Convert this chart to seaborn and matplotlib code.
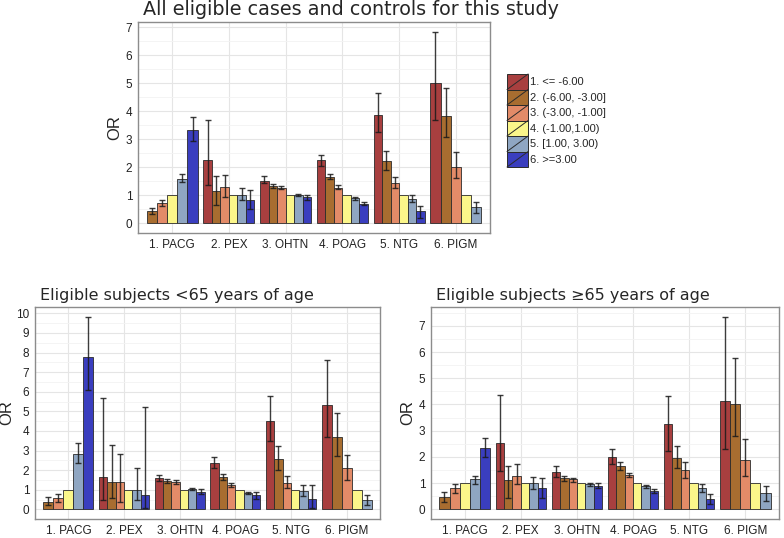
import numpy as np
import pandas as pd
import matplotlib
matplotlib.use('Agg')
import matplotlib.pyplot as plt
import seaborn as sns
from matplotlib.patches import Rectangle, Patch
from matplotlib.lines import Line2D
from matplotlib.legend_handler import HandlerBase
from matplotlib.ticker import MultipleLocator

nan = np.nan

grupos = ['1. PACG', '2. PEX', '3. OHTN', '4. POAG', '5. NTG', '6. PIGM']
categorias = ['1. <= -6.00', '2. (-6.00, -3.00]', '3. (-3.00, -1.00]',
              '4. (-1.00,1.00)', '5. [1.00, 3.00)', '6. >=3.00']
cores = ['#A83F3F', '#A86D30', '#E38B68', '#FBF68A', '#8FA6C2', '#3A3EBF']

# painel 1: todos os casos
or_todos = [[nan, 0.43, 0.72, 1.0, 1.60, 3.33],
            [2.27, 1.15, 1.30, 1.0, 1.03, 0.82],
            [1.53, 1.35, 1.28, 1.0, 1.02, 0.93],
            [2.25, 1.67, 1.28, 1.0, 0.89, 0.71],
            [3.88, 2.23, 1.43, 1.0, 0.88, 0.43],
            [5.02, 3.85, 2.02, 1.0, 0.58, nan]]
lo_todos = [[nan, 0.32, 0.62, nan, 1.47, 2.93],
            [1.38, 0.65, 0.93, nan, 0.82, 0.50],
            [1.43, 1.28, 1.22, nan, 0.97, 0.85],
            [2.05, 1.57, 1.22, nan, 0.85, 0.64],
            [3.25, 1.90, 1.25, nan, 0.78, 0.20],
            [3.70, 3.07, 1.61, nan, 0.37, nan]]
hi_todos = [[nan, 0.55, 0.82, nan, 1.75, 3.80],
            [3.70, 1.68, 1.72, nan, 1.28, 1.20],
            [1.68, 1.42, 1.35, nan, 1.06, 1.00],
            [2.45, 1.78, 1.36, nan, 0.94, 0.78],
            [4.65, 2.60, 1.66, nan, 1.02, 0.63],
            [6.85, 4.84, 2.55, nan, 0.78, nan]]

# painel 2: < 65 anos
or_menor = [[nan, 0.37, 0.57, 1.0, 2.82, 7.75],
            [1.64, 1.39, 1.39, 1.0, 1.01, 0.71],
            [1.60, 1.44, 1.39, 1.0, 1.05, 0.91],
            [2.36, 1.64, 1.25, 1.0, 0.84, 0.74],
            [4.49, 2.57, 1.35, 1.0, 0.95, 0.54],
            [5.30, 3.67, 2.09, 1.0, 0.46, nan]]
lo_menor = [[nan, 0.20, 0.37, nan, 2.36, 6.11],
            [0.50, 0.57, 0.37, nan, 0.47, 0.07],
            [1.45, 1.32, 1.27, nan, 0.98, 0.76],
            [2.09, 1.49, 1.15, nan, 0.78, 0.54],
            [3.50, 1.99, 1.08, nan, 0.68, 0.07],
            [3.68, 2.70, 1.52, nan, 0.20, nan]]
hi_menor = [[nan, 0.61, 0.78, nan, 3.36, 9.83],
            [5.66, 3.29, 2.84, nan, 2.13, 5.24],
            [1.77, 1.55, 1.49, nan, 1.11, 1.06],
            [2.65, 1.79, 1.35, nan, 0.91, 0.91],
            [5.76, 3.21, 1.69, nan, 1.22, 1.22],
            [7.64, 4.93, 2.79, nan, 0.74, nan]]

# painel 3: >= 65 anos
or_maior = [[nan, 0.47, 0.81, 1.0, 1.14, 2.34],
            [2.54, 1.12, 1.29, 1.0, 1.00, 0.81],
            [1.44, 1.19, 1.14, 1.0, 0.95, 0.91],
            [2.01, 1.67, 1.31, 1.0, 0.88, 0.69],
            [3.27, 1.95, 1.50, 1.0, 0.82, 0.40],
            [4.12, 4.03, 1.87, 1.0, 0.63, nan]]
lo_maior = [[nan, 0.28, 0.63, nan, 0.97, 1.98],
            [1.48, 0.44, 0.95, nan, 0.76, 0.45],
            [1.24, 1.09, 1.06, nan, 0.88, 0.81],
            [1.73, 1.52, 1.23, nan, 0.82, 0.62],
            [2.24, 1.57, 1.20, nan, 0.68, 0.21],
            [2.30, 2.81, 1.29, nan, 0.32, nan]]
hi_maior = [[nan, 0.66, 0.97, nan, 1.29, 2.72],
            [4.38, 1.67, 1.73, nan, 1.25, 1.19],
            [1.66, 1.29, 1.20, nan, 1.02, 1.00],
            [2.30, 1.82, 1.40, nan, 0.94, 0.78],
            [4.32, 2.40, 1.81, nan, 0.97, 0.59],
            [7.35, 5.76, 2.68, nan, 0.91, nan]]


def monta_df(or_v, lo_v, hi_v):
    linhas = []
    for i, g in enumerate(grupos):
        for j, c in enumerate(categorias):
            if not np.isnan(or_v[i][j]):
                linhas.append([g, c, or_v[i][j], lo_v[i][j], hi_v[i][j]])
    return pd.DataFrame(linhas, columns=['grupo', 'cat', 'OR', 'lo', 'hi'])


def desenha(ax, df, titulo, tam_titulo, pos_or):
    # dodge estilo ggplot: barras ocupam 0.9 do grupo
    for i, g in enumerate(grupos):
        sub = df[df['grupo'] == g]
        n = len(sub)
        w = 0.9 / n
        for k, (_, r) in enumerate(sub.iterrows()):
            x = i - 0.45 + (k + 0.5) * w
            cor = cores[categorias.index(r['cat'])]
            ax.bar(x, r['OR'], width=w, color=cor, edgecolor='#2b2b2b', linewidth=0.6, zorder=2)
            if not np.isnan(r['lo']):
                ax.errorbar(x, r['OR'], yerr=[[r['OR'] - r['lo']], [r['hi'] - r['OR']]],
                            fmt='none', ecolor='#1a1a1a', elinewidth=1.0, capsize=2.4,
                            capthick=1.0, zorder=3, alpha=0.85)
    topo = df['hi'].max()
    ax.set_ylim(-0.05 * topo, topo * 1.05)
    ax.set_xlim(-0.6, 5.6)
    ax.set_xticks(range(len(grupos)))
    ax.set_xticklabels(grupos)
    ax.yaxis.set_major_locator(MultipleLocator(1))
    ax.yaxis.set_minor_locator(MultipleLocator(0.5))
    ax.grid(True, which='major', color='#E5E5E5', linewidth=0.8, zorder=0)
    ax.grid(True, which='minor', axis='y', color='#F3F3F3', linewidth=0.6, zorder=0)
    ax.set_axisbelow(True)
    for s in ax.spines.values():
        s.set_color('#8C8C8C')
        s.set_linewidth(1.0)
    ax.tick_params(axis='both', which='major', direction='out', length=2.6, width=0.8,
                   color='#333333', labelsize=8.5, labelcolor='#222222', pad=1.5)
    ax.tick_params(axis='y', which='minor', length=0)
    for t in ax.get_xticklabels() + ax.get_yticklabels():
        t.set_fontfamily('Liberation Sans')
    ax.set_ylabel('OR', fontsize=12, fontfamily='Liberation Sans')
    ax.yaxis.set_label_coords(pos_or, 0.5)
    ax.set_xlabel('')
    ax.set_title(titulo, fontsize=tam_titulo, loc='left', pad=5, x=0.015)


class ChaveDiagonal(HandlerBase):
    def create_artists(self, legend, orig_handle, xdescent, ydescent, width, height, fontsize, trans):
        r = Rectangle((-xdescent, -ydescent), width, height, facecolor=orig_handle.get_facecolor(),
                      edgecolor='#2b2b2b', linewidth=0.7, transform=trans)
        l = Line2D([-xdescent, -xdescent + width], [-ydescent, -ydescent + height],
                   color='#2b2b2b', linewidth=0.7, transform=trans)
        return [r, l]


sns.set_theme(style='white')
plt.rcParams['font.family'] = ['DejaVu Sans']

fig = plt.figure(figsize=(7.84, 5.38), dpi=100)
W, H = 784, 538
ax1 = fig.add_axes([138 / W, 1 - 233 / H, (490 - 138) / W, (233 - 22) / H])
ax2 = fig.add_axes([35 / W, 1 - 519 / H, (380 - 35) / W, (519 - 307) / H])
ax3 = fig.add_axes([431 / W, 1 - 519 / H, (779 - 431) / W, (519 - 307) / H])

desenha(ax1, monta_df(or_todos, lo_todos, hi_todos), 'All eligible cases and controls for this study', 13.8,
        (122 - 138) / 352)
desenha(ax2, monta_df(or_menor, lo_menor, hi_menor), 'Eligible subjects <65 years of age', 11.5,
        (14 - 35) / 345)
desenha(ax3, monta_df(or_maior, lo_maior, hi_maior), 'Eligible subjects \u226565 years of age', 11.5,
        (415 - 431) / 348)

handles = [Patch(facecolor=c) for c in cores]
leg = fig.legend(handles, categorias, loc='upper left', bbox_to_anchor=(507 / W, 1 - 74 / H),
                 frameon=False, handler_map={Patch: ChaveDiagonal()}, fontsize=8,
                 handlelength=1.9, handleheight=1.77, labelspacing=0.0, handletextpad=0.2,
                 borderpad=0, borderaxespad=0)
for t in leg.get_texts():
    t.set_fontfamily('Liberation Sans')

fig.savefig('out.png', dpi=100)
